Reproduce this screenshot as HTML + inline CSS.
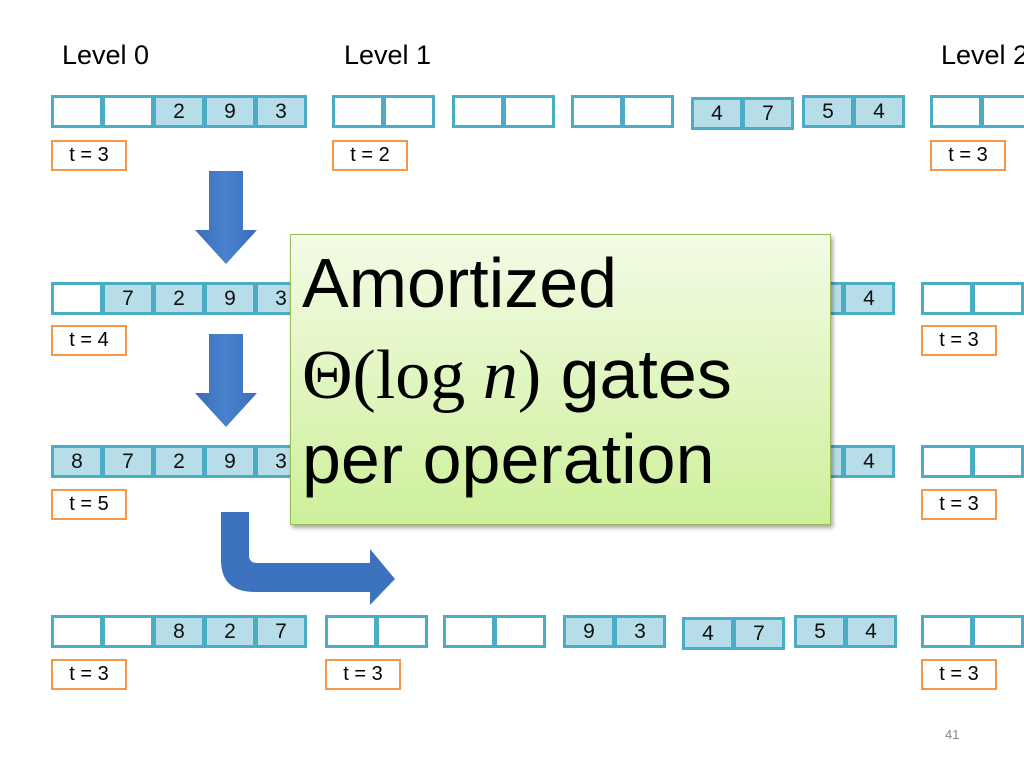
<!DOCTYPE html>
<html><head><meta charset="utf-8"><style>
body{margin:0;width:1024px;height:768px;background:#fff;position:relative;overflow:hidden;font-family:"Liberation Sans",sans-serif;}
.c{position:absolute;height:27px;width:46px;border:3px solid #4bacc6;background:#fff;font-size:21px;text-align:center;line-height:27px;color:#111;box-sizing:content-box;}
.f{background:#b7dde8;}
.t{position:absolute;width:72px;height:27px;border:2px solid #f79646;font-size:20px;line-height:27px;text-align:center;background:#fff;}
.l{position:absolute;font-size:27px;top:40px;white-space:nowrap;}
.ln{position:absolute;left:302px;font-size:70px;color:#000;white-space:nowrap;line-height:1;}
</style></head><body>
<div class="l" style="left:62px">Level 0</div>
<div class="l" style="left:344px">Level 1</div>
<div class="l" style="left:941px">Level 2</div>

<!-- row1 y95 -->
<div class="c" style="left:51px;top:95px"></div><div class="c" style="left:102px;top:95px"></div>
<div class="c f" style="left:153px;top:95px">2</div><div class="c f" style="left:204px;top:95px">9</div><div class="c f" style="left:255px;top:95px">3</div>
<div class="c" style="left:332px;top:95px"></div><div class="c" style="left:383px;top:95px"></div>
<div class="c" style="left:452px;top:95px"></div><div class="c" style="left:503px;top:95px"></div>
<div class="c" style="left:571px;top:95px"></div><div class="c" style="left:622px;top:95px"></div>
<div class="c f" style="left:691px;top:97px">4</div><div class="c f" style="left:742px;top:97px">7</div>
<div class="c f" style="left:802px;top:95px">5</div><div class="c f" style="left:853px;top:95px">4</div>
<div class="c" style="left:930px;top:95px"></div><div class="c" style="left:981px;top:95px"></div>
<div class="t" style="left:51px;top:140px">t = 3</div>
<div class="t" style="left:332px;top:140px">t = 2</div>
<div class="t" style="left:930px;top:140px">t = 3</div>

<!-- row2 y282 -->
<div class="c" style="left:51px;top:282px"></div><div class="c f" style="left:102px;top:282px">7</div>
<div class="c f" style="left:153px;top:282px">2</div><div class="c f" style="left:204px;top:282px">9</div><div class="c f" style="left:255px;top:282px">3</div>
<div class="c f" style="left:792px;top:282px"></div><div class="c f" style="left:843px;top:282px">4</div>
<div class="c" style="left:921px;top:282px"></div><div class="c" style="left:972px;top:282px"></div>
<div class="t" style="left:51px;top:325px">t = 4</div>
<div class="t" style="left:921px;top:325px">t = 3</div>

<!-- row3 y445 -->
<div class="c f" style="left:51px;top:445px">8</div><div class="c f" style="left:102px;top:445px">7</div>
<div class="c f" style="left:153px;top:445px">2</div><div class="c f" style="left:204px;top:445px">9</div><div class="c f" style="left:255px;top:445px">3</div>
<div class="c f" style="left:792px;top:445px"></div><div class="c f" style="left:843px;top:445px">4</div>
<div class="c" style="left:921px;top:445px"></div><div class="c" style="left:972px;top:445px"></div>
<div class="t" style="left:51px;top:489px">t = 5</div>
<div class="t" style="left:921px;top:489px">t = 3</div>

<!-- row4 y615 -->
<div class="c" style="left:51px;top:615px"></div><div class="c" style="left:102px;top:615px"></div>
<div class="c f" style="left:153px;top:615px">8</div><div class="c f" style="left:204px;top:615px">2</div><div class="c f" style="left:255px;top:615px">7</div>
<div class="c" style="left:325px;top:615px"></div><div class="c" style="left:376px;top:615px"></div>
<div class="c" style="left:443px;top:615px"></div><div class="c" style="left:494px;top:615px"></div>
<div class="c f" style="left:563px;top:615px">9</div><div class="c f" style="left:614px;top:615px">3</div>
<div class="c f" style="left:682px;top:617px">4</div><div class="c f" style="left:733px;top:617px">7</div>
<div class="c f" style="left:794px;top:615px">5</div><div class="c f" style="left:845px;top:615px">4</div>
<div class="c" style="left:921px;top:615px"></div><div class="c" style="left:972px;top:615px"></div>
<div class="t" style="left:51px;top:659px">t = 3</div>
<div class="t" style="left:325px;top:659px">t = 3</div>
<div class="t" style="left:921px;top:659px">t = 3</div>

<svg style="position:absolute;left:0;top:0" width="1024" height="768">
<defs><linearGradient id="a" x1="0" x2="1"><stop offset="0" stop-color="#3a6db8"/><stop offset="0.5" stop-color="#4a82cf"/><stop offset="1" stop-color="#3a6db8"/></linearGradient></defs>
<polygon points="209,171 243,171 243,230 257,230 226,264 195,230 209,230" fill="url(#a)"/>
<polygon points="209,334 243,334 243,393 257,393 226,427 195,393 209,393" fill="url(#a)"/>
<path d="M221,512 L249,512 L249,555 Q249,563 257,563 L370,563 L370,549 L395,579 L370,605 L370,592 L255,592 Q221,592 221,560 Z" fill="#3d72bf"/>
</svg>

<div style="position:absolute;left:290px;top:234px;width:539px;height:289px;border:1px solid #9bbb59;background:linear-gradient(#f3fbe6,#cdf09a);box-shadow:2px 3px 4px rgba(0,0,0,0.35);"></div>
<div class="ln" style="top:248px">Amortized</div>
<div class="ln" style="top:339px"><span style="font-family:'Liberation Serif',serif">Θ(log <i>n</i>)</span> gates</div>
<div class="ln" style="top:424px">per operation</div>

<div style="position:absolute;left:945px;top:727px;font-size:13px;color:#888">41</div>
</body></html>
